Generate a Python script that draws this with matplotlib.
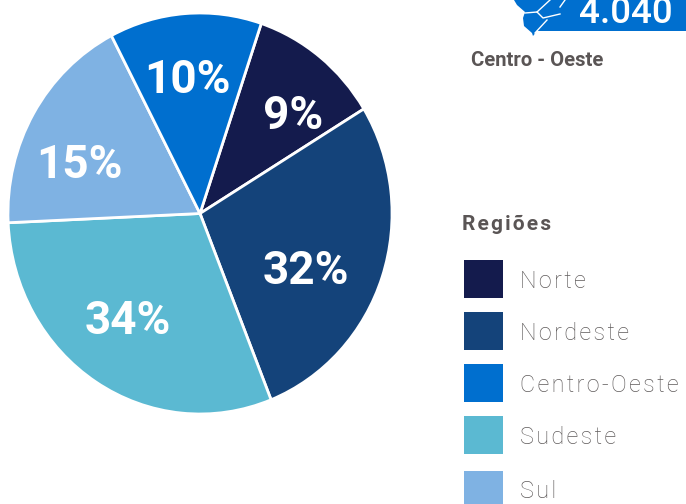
import matplotlib
matplotlib.use('Agg')
import matplotlib.pyplot as plt
from matplotlib.patches import Rectangle, Polygon

# dados
regioes = ['Norte', 'Nordeste', 'Sudeste', 'Sul', 'Centro-Oeste']
rotulos = ['9%', '32%', '34%', '15%', '10%']
# fatias medidas na imagem (nao batem com os rotulos no original)
fatias = [11.1, 27.7, 30.3, 18.1, 12.8]
cores_fatias = ['#141B4D', '#14437A', '#5BB9D2', '#7FB2E3', '#006FCF']
legenda = ['Norte', 'Nordeste', 'Centro-Oeste', 'Sudeste', 'Sul']
cores_legenda = ['#141B4D', '#14437A', '#006FCF', '#5BB9D2', '#7FB2E3']
total = '4.040'
regiao_destaque = 'Centro - Oeste'

plt.rcParams['font.family'] = ['Roboto', 'DejaVu Sans']
W, H = 686, 504
HAIR = '\u200a'


def espacado(s):
    # matplotlib nao tem letter-spacing
    return HAIR.join(s)


fig = plt.figure(figsize=(W / 100, H / 100), dpi=100)

# pizza um pouco esticada na vertical, como no original
ax = fig.add_axes([7 / W, (H - 415) / H, 386 / W, 403 / H])
ax.pie(fatias, colors=cores_fatias, startangle=71.4, counterclock=False,
       wedgeprops={'edgecolor': 'white', 'linewidth': 2})
ax.set_aspect('auto')
ax.set_xlim(-1.005, 1.005)
ax.set_ylim(-1.005, 1.005)

# camada em pixels para textos e legenda
ov = fig.add_axes([0, 0, 1, 1], facecolor='none')
ov.set_xlim(0, W)
ov.set_ylim(H, 0)
ov.axis('off')

pos_rotulos = [(293, 116), (306, 271), (128, 321), (79, 165), (187, 80)]
for txt, (x, y) in zip(rotulos, pos_rotulos):
    ov.text(x, y, txt, color='white', fontsize=33, fontweight='bold',
            ha='center', va='center')

# faixa azul e pedaco do mapa
ov.add_patch(Rectangle((545, 0), 141, 31, color='#006FCF', lw=0))
mapa = [(514, 0), (517, 5), (525, 12), (523, 18), (524, 26), (532, 33),
        (533, 36), (537, 31), (548, 31), (570, 0)]
ov.add_patch(Polygon(mapa, closed=True, color='#006FCF', lw=0))
ov.plot([525, 537, 543, 560], [13, 12, 18, 14], color='white', lw=1)
ov.plot([547, 535], [20, 33], color='white', lw=1)
ov.plot([537, 550], [12, 0], color='white', lw=1)
ov.plot([560, 565], [7, 0], color='white', lw=1)
ov.text(626, 13.5, total, color='white', fontsize=26.5,
        fontweight='medium', ha='center', va='center')

ov.text(471, 60, regiao_destaque, color='#5A5555', fontsize=14.6,
        fontweight='bold', ha='left', va='center')
ov.text(462, 224, espacado('Regiões'), color='#5A5555', fontsize=15,
        fontweight='bold', ha='left', va='center')

# legenda
topos = [260, 312, 364, 416, 471]
for nome, cor, y in zip(legenda, cores_legenda, topos):
    ov.add_patch(Rectangle((464, y), 39, 38, color=cor, lw=0))
    ov.text(520, y + 21, espacado(nome), color='#5F5B5B', fontsize=16.8,
            fontweight='light', ha='left', va='center')

fig.savefig('out.png', dpi=100)
